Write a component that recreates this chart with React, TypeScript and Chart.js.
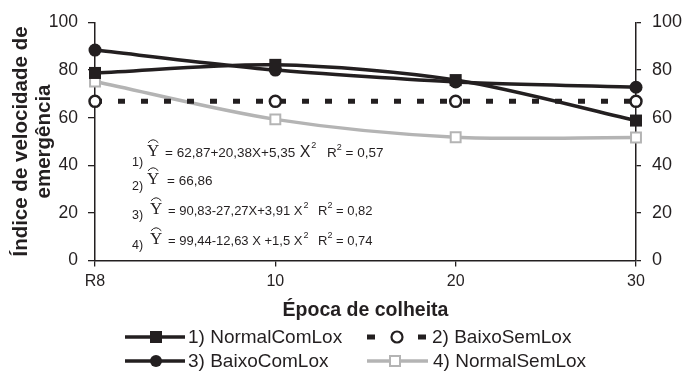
import React, { useEffect, useRef } from "react";
import { Chart, registerables } from "chart.js";

Chart.register(...registerables);

// ---------- data ----------
const categories = ["R8", "10", "20", "30"];
const normalComLox = [78.8, 82.2, 75.8, 58.8];
const baixoSemLox = [66.86, 66.86, 66.86, 66.86];
const baixoComLox = [88.4, 80.0, 75.0, 72.8];
const normalSemLox = [75.2, 59.3, 51.8, 51.7];
const yTicks = [0, 20, 40, 60, 80, 100];
const seriesNames = ["1) NormalComLox", "2) BaixoSemLox", "3) BaixoComLox", "4) NormalSemLox"];
const yTitleLines = ["Índice de velocidade de", "emergência"];
const xTitle = "Época de colheita";
const eqLabels = ["1)", "2)", "3)", "4)"];
const eqBodies = ["= 62,87+20,38X+5,35", "= 66,86", "= 90,83-27,27X+3,91", "= 99,44-12,63 X +1,5"];
const eqR2 = ["0,57", "", "0,82", "0,74"];

const SANS = "'Liberation Sans', Arial, Helvetica, sans-serif";
const SERIF = "'Liberation Serif', 'Times New Roman', serif";
const BLACK = "#231f20";
const GRAY = "#b4b4b4";

function drawYHat(ctx: CanvasRenderingContext2D, x: number, base: number, size: number) {
  ctx.font = `${size}px ${SERIF}`;
  ctx.textAlign = "left";
  ctx.textBaseline = "alphabetic";
  ctx.fillText("Y", x, base);
  const w = ctx.measureText("Y").width;
  const top = base - size * 0.66;
  ctx.save();
  ctx.lineWidth = 1;
  ctx.strokeStyle = BLACK;
  ctx.beginPath();
  ctx.moveTo(x + 1, top - 2);
  ctx.quadraticCurveTo(x + w / 2, top - 8, x + w - 1, top - 2);
  ctx.stroke();
  ctx.restore();
}

const annotPlugin = {
  id: "annot",
  afterDraw(chart: any) {
    const ctx: CanvasRenderingContext2D = chart.ctx;
    const ca = chart.chartArea;
    ctx.save();
    ctx.fillStyle = BLACK;

    // Y title
    ctx.font = `bold 20.5px ${SANS}`;
    ctx.textAlign = "center";
    ctx.textBaseline = "alphabetic";
    const cy = (ca.top + ca.bottom) / 2;
    [27, 49.5].forEach((bx, i) => {
      ctx.save();
      ctx.translate(bx, cy);
      ctx.rotate(-Math.PI / 2);
      ctx.fillText(yTitleLines[i], 0, 0);
      ctx.restore();
    });

    // X title
    ctx.font = `bold 19.5px ${SANS}`;
    ctx.textAlign = "center";
    ctx.textBaseline = "middle";
    ctx.fillText(xTitle, (ca.left + ca.right) / 2, 311);

    // Equations
    const bases = [157, 185, 215, 245];
    const labelDrop = [9, 5, 4, 4];
    const yhatX = [147, 147, 150, 150];
    const bodyX = [165, 167, 168, 168];
    const bodySize = [13.5, 13.5, 13, 13];
    const r2X = [327, 0, 318, 318];
    for (let i = 0; i < 4; i++) {
      const b = bases[i];
      ctx.textAlign = "left";
      ctx.textBaseline = "alphabetic";
      ctx.font = `12.5px ${SANS}`;
      ctx.fillText(eqLabels[i], 132, b + labelDrop[i]);
      drawYHat(ctx, yhatX[i], b - 1, 17);
      ctx.font = `${bodySize[i]}px ${SANS}`;
      ctx.fillText(eqBodies[i], bodyX[i], b);
      let x = bodyX[i] + ctx.measureText(eqBodies[i]).width;
      if (eqR2[i]) {
        const xs = i === 0 ? 16 : 13;
        ctx.font = `${xs}px ${SANS}`;
        x += ctx.measureText(" ").width;
        ctx.fillText("X", x, b);
        x += ctx.measureText("X").width + 1;
        ctx.font = `9px ${SANS}`;
        ctx.fillText("2", x, b - (i === 0 ? 9 : 7));
        ctx.font = `${bodySize[i]}px ${SANS}`;
        let rx = r2X[i];
        ctx.fillText("R", rx, b);
        rx += ctx.measureText("R").width;
        ctx.font = `9px ${SANS}`;
        ctx.fillText("2", rx, b - 7);
        rx += ctx.measureText("2").width;
        ctx.font = `${bodySize[i]}px ${SANS}`;
        ctx.fillText(" = " + eqR2[i], rx, b);
      }
    }

    // Legend
    const r1 = 337, r2 = 361;
    ctx.font = `19px ${SANS}`;
    ctx.textAlign = "left";
    ctx.textBaseline = "middle";
    // item 1
    ctx.strokeStyle = BLACK;
    ctx.lineWidth = 3.5;
    ctx.beginPath(); ctx.moveTo(125, r1); ctx.lineTo(185, r1); ctx.stroke();
    ctx.fillRect(156 - 6, r1 - 6, 12, 12);
    ctx.fillText(seriesNames[0], 188, r1 + 1);
    // item 3
    ctx.beginPath(); ctx.moveTo(125, r2); ctx.lineTo(185, r2); ctx.stroke();
    ctx.beginPath(); ctx.arc(156, r2, 6, 0, Math.PI * 2); ctx.fill();
    ctx.fillText(seriesNames[2], 188, r2 + 1);
    // item 2
    ctx.fillRect(367, r1 - 2.5, 8, 5);
    ctx.fillRect(418, r1 - 2.5, 8, 5);
    ctx.lineWidth = 2.2;
    ctx.fillStyle = "#fff";
    ctx.beginPath(); ctx.arc(397, r1, 5.5, 0, Math.PI * 2); ctx.fill(); ctx.stroke();
    ctx.fillStyle = BLACK;
    ctx.fillText(seriesNames[1], 432, r1 + 1);
    // item 4
    ctx.strokeStyle = GRAY;
    ctx.lineWidth = 3.5;
    ctx.beginPath(); ctx.moveTo(367, r2); ctx.lineTo(428, r2); ctx.stroke();
    ctx.fillStyle = "#fff";
    ctx.lineWidth = 2;
    ctx.fillRect(390, r2 - 5, 10, 10);
    ctx.strokeRect(390, r2 - 5, 10, 10);
    ctx.fillStyle = BLACK;
    ctx.fillText(seriesNames[3], 433, r2 + 1);

    ctx.restore();
  },
};

export default function App() {
  const ref = useRef<HTMLCanvasElement | null>(null);
  useEffect(() => {
    document.body.style.margin = "0";
    const canvas = ref.current;
    if (!canvas) return;
    const axisCommon = {
      min: 0,
      max: 100,
      afterBuildTicks: (s: any) => {
        s.ticks = yTicks.map((v) => ({ value: v }));
      },
      grid: { display: true, drawOnChartArea: false, drawTicks: true, color: BLACK, lineWidth: 1.3 },
      border: { display: true, color: BLACK, width: 1.5 },
    };
    const chart = new Chart(canvas, {
      type: "line",
      data: {
        labels: categories,
        datasets: [
          {
            label: seriesNames[0],
            data: normalComLox,
            borderColor: BLACK,
            backgroundColor: BLACK,
            borderWidth: 3.5,
            pointStyle: "rect",
            pointRadius: 8.5,
            pointBorderWidth: 0,
            pointBackgroundColor: BLACK,
            tension: 0.3,
            clip: false,
          },
          {
            label: seriesNames[1],
            data: baixoSemLox,
            borderColor: BLACK,
            borderWidth: 5,
            borderDash: [7, 16],
            pointStyle: "circle",
            pointRadius: 5.5,
            pointBorderWidth: 2.5,
            pointBorderColor: BLACK,
            pointBackgroundColor: "#ffffff",
            tension: 0,
            clip: false,
          },
          {
            label: seriesNames[2],
            data: baixoComLox,
            borderColor: BLACK,
            backgroundColor: BLACK,
            borderWidth: 3.5,
            pointStyle: "circle",
            pointRadius: 6.5,
            pointBorderWidth: 0,
            pointBackgroundColor: BLACK,
            tension: 0.2,
            clip: false,
          },
          {
            label: seriesNames[3],
            data: normalSemLox,
            borderColor: GRAY,
            borderWidth: 3.5,
            pointStyle: "rect",
            pointRadius: 7,
            pointBorderWidth: 2,
            pointBorderColor: GRAY,
            pointBackgroundColor: "#ffffff",
            tension: 0.3,
            clip: false,
          },
        ],
      },
      options: {
        responsive: false,
        animation: false,
        devicePixelRatio: 1,
        layout: { padding: { top: 22.5, left: 0, right: 0, bottom: 0 } },
        plugins: { legend: { display: false }, tooltip: { enabled: false } },
        scales: {
          x: {
            type: "category",
            offset: false,
            grid: { display: true, drawOnChartArea: false, drawTicks: true, tickLength: 6, color: BLACK, lineWidth: 1.3 },
            border: { display: true, color: BLACK, width: 1.5 },
            ticks: { color: BLACK, font: { family: SANS, size: 16 }, padding: 5, maxRotation: 0 },
            afterFit: (s: any) => {
              s.height = 113.5;
            },
          },
          y: {
            ...axisCommon,
            position: "left",
            grid: { ...axisCommon.grid, tickLength: 7 },
            ticks: { color: BLACK, font: { family: SANS, size: 17.5 }, padding: 10 },
            afterFit: (s: any) => {
              s.width = 95;
            },
          },
          y2: {
            ...axisCommon,
            position: "right",
            grid: { ...axisCommon.grid, tickLength: 5 },
            ticks: { color: BLACK, font: { family: SANS, size: 18 }, padding: 11 },
            afterFit: (s: any) => {
              s.width = 49;
            },
          },
        },
      },
      plugins: [annotPlugin],
    } as any);
    return () => chart.destroy();
  }, []);
  return (
    <div style={{ width: 685, height: 374, background: "#fff" }}>
      <canvas ref={ref} width={685} height={374} style={{ display: "block" }} />
    </div>
  );
}
